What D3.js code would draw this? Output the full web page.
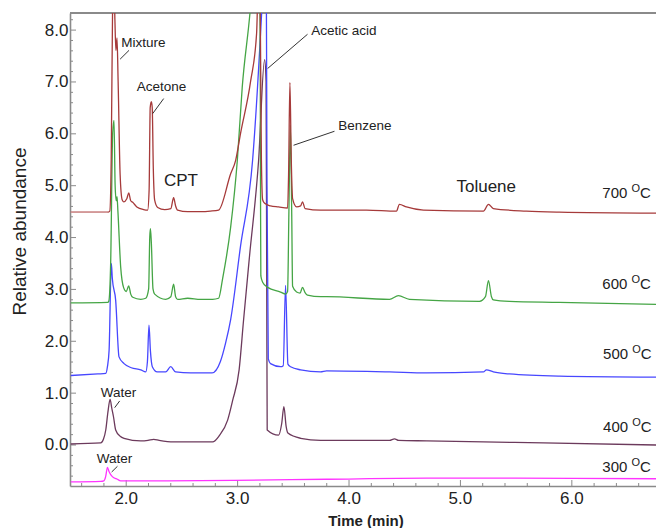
<!DOCTYPE html>
<html>
<head>
<meta charset="utf-8">
<script src="https://cdn.jsdelivr.net/npm/d3@7"></script>
<style>
  body { margin: 0; background: #fff; }
  text { font-family: "Liberation Sans", Arial, Helvetica, sans-serif; fill: #222; }
</style>
</head>
<body>
<div id="chart"></div>
<script>
//------------------ DATA (time in min, relative abundance) ------------------
// each run is a list of [time, abundance]
var run700 = [[1.507,4.48],[1.839,4.48],[1.857,4.50],[1.870,5.50],[1.883,8.60],[1.892,9.20],[1.903,8.20],
  [1.912,7.60],[1.922,7.84],[1.932,7.00],[1.950,5.20],[1.968,4.72],[1.982,4.68],[2.010,4.74],[2.027,4.85],
  [2.045,4.70],[2.063,4.67],[2.100,4.58],[2.161,4.53],[2.197,4.52],[2.210,4.90],[2.220,6.50],[2.230,6.61],
  [2.238,6.50],[2.248,5.30],[2.260,4.71],[2.287,4.57],[2.350,4.53],[2.405,4.55],[2.430,4.76],[2.448,4.60],
  [2.466,4.52],[2.556,4.49],[2.673,4.49],[2.760,4.50],[2.834,4.52],[2.942,5.22],[2.987,5.48],[3.031,6.00],
  [3.121,7.00],[3.175,7.93],[3.195,9.30],[3.209,8.00],[3.218,5.50],[3.229,4.72],[3.247,4.65],[3.300,4.60],
  [3.372,4.58],[3.453,4.56],[3.462,5.20],[3.474,6.98],[3.486,5.50],[3.498,4.74],[3.534,4.58],[3.570,4.60],
  [3.587,4.68],[3.610,4.55],[3.749,4.52],[4.161,4.52],[4.430,4.50],[4.457,4.63],[4.520,4.58],[4.673,4.52],
  [5.211,4.50],[5.256,4.63],[5.300,4.55],[5.596,4.50],[5.892,4.48],[6.762,4.46]];

var run600 = [[1.507,2.73],[1.839,2.74],[1.848,2.76],[1.865,3.50],[1.883,6.00],[1.895,6.25],[1.905,5.00],
  [1.915,4.70],[1.922,4.78],[1.930,4.50],[1.955,3.42],[1.982,3.02],[2.005,2.95],[2.027,3.06],[2.045,2.90],
  [2.063,2.84],[2.135,2.80],[2.180,2.82],[2.206,3.00],[2.216,4.00],[2.222,4.16],[2.230,3.90],[2.245,3.00],
  [2.260,2.90],[2.359,2.80],[2.405,2.85],[2.430,3.09],[2.448,2.85],[2.466,2.80],[2.556,2.82],[2.673,2.80],
  [2.780,2.80],[2.834,2.82],[2.870,3.20],[2.942,4.19],[3.002,5.48],[3.046,6.89],[3.115,8.31],[3.160,9.50],
  [3.205,9.00],[3.210,5.00],[3.213,3.25],[3.229,3.13],[3.274,3.03],[3.390,2.94],[3.435,2.90],[3.453,2.95],
  [3.465,4.50],[3.478,6.16],[3.490,4.50],[3.498,3.05],[3.534,2.94],[3.565,2.92],[3.587,3.03],[3.610,2.93],
  [3.632,2.88],[3.749,2.85],[3.803,2.85],[4.368,2.80],[4.448,2.87],[4.547,2.80],[5.175,2.76],[5.229,2.85],
  [5.256,3.16],[5.283,2.85],[5.300,2.79],[5.444,2.76],[5.892,2.74],[6.762,2.70]];

var run500 = [[1.507,1.33],[1.750,1.36],[1.821,1.37],[1.836,1.50],[1.851,1.82],[1.871,3.49],[1.880,3.20],
  [1.910,2.78],[1.940,1.69],[1.985,1.56],[2.050,1.48],[2.135,1.44],[2.180,1.40],[2.195,1.60],[2.209,2.30],
  [2.222,1.80],[2.239,1.50],[2.283,1.40],[2.359,1.40],[2.404,1.50],[2.448,1.40],[2.583,1.38],[2.775,1.38],
  [2.850,1.60],[2.897,1.96],[2.942,2.41],[3.031,3.83],[3.139,5.48],[3.220,8.31],[3.250,9.60],[3.262,9.00],
  [3.268,5.00],[3.280,1.65],[3.300,1.56],[3.390,1.50],[3.414,1.52],[3.435,3.07],[3.456,1.55],[3.480,1.50],
  [3.570,1.44],[3.749,1.40],[3.803,1.42],[4.368,1.40],[4.700,1.38],[5.211,1.40],[5.238,1.44],[5.300,1.40],
  [5.444,1.36],[5.892,1.32],[6.762,1.30]];

var run400 = [[1.507,0.01],[1.776,0.03],[1.800,0.10],[1.821,0.28],[1.840,0.62],[1.860,0.87],[1.875,0.70],
  [1.890,0.54],[1.910,0.28],[1.950,0.16],[1.985,0.12],[2.135,0.07],[2.200,0.08],[2.251,0.10],[2.300,0.08],
  [2.430,0.05],[2.780,0.05],[2.840,0.17],[2.915,0.47],[2.960,0.85],[3.018,1.44],[3.058,2.40],[3.110,3.60],
  [3.193,5.48],[3.247,7.42],[3.260,7.00],[3.266,3.00],[3.270,0.28],[3.372,0.18],[3.400,0.40],[3.420,0.73],
  [3.440,0.35],[3.456,0.22],[3.570,0.12],[3.749,0.08],[4.368,0.08],[4.413,0.11],[4.450,0.08],[4.700,0.07],
  [5.211,0.05],[5.749,0.03],[6.762,-0.01]];

var run300 = [[1.507,-0.72],[1.776,-0.71],[1.804,-0.70],[1.820,-0.62],[1.836,-0.44],[1.850,-0.52],
  [1.880,-0.62],[1.925,-0.67],[1.955,-0.70],[2.377,-0.70],[2.969,-0.69],[3.803,-0.67],[4.700,-0.65],
  [5.500,-0.65],[6.762,-0.66]];

var runLabels = ["700", "600", "500", "400", "300"];
var xTicks = [2, 3, 4, 5, 6];
var yTicks = [0, 1, 2, 3, 4, 5, 6, 7, 8];

//------------------ SETUP ------------------
var width = 656;
var height = 528;

var svg = d3.select("#chart")
  .append("svg")
  .attr("width", width)
  .attr("height", height);

var x = d3.scaleLinear().domain([1.5, 6.76]).range([70, 656]);
var y = d3.scaleLinear().domain([-0.8, 8.32]).range([486, 13]);

// plot area clip so tall peaks get cut at the frame
svg.append("clipPath").attr("id", "plotClip")
  .append("rect")
  .attr("x", x(1.5)).attr("y", y(8.32))
  .attr("width", x(6.76) - x(1.5)).attr("height", y(-0.8) - y(8.32));

//------------------ AXES ------------------
var axisColor = "#8a8a8a";

// minor ticks first (every 0.2)
var xMinor = d3.range(1.6, 6.75, 0.2).filter(function(d) { return Math.abs(d - Math.round(d)) > 0.01; });
var yMinor = d3.range(-0.6, 8.31, 0.2).filter(function(d) { return Math.abs(d - Math.round(d)) > 0.01; });

svg.append("g")
  .attr("transform", "translate(0," + y(-0.8) + ")")
  .call(d3.axisBottom(x).tickValues(xMinor).tickSize(-3).tickFormat(""))
  .call(function(g) { g.select(".domain").remove(); })
  .selectAll("line").attr("stroke", axisColor);

svg.append("g")
  .attr("transform", "translate(" + x(1.5) + ",0)")
  .call(d3.axisLeft(y).tickValues(yMinor).tickSize(-3).tickFormat(""))
  .call(function(g) { g.select(".domain").remove(); })
  .selectAll("line").attr("stroke", axisColor);

var xAxis = svg.append("g")
  .attr("transform", "translate(0," + y(-0.8) + ")")
  .call(d3.axisBottom(x).tickValues(xTicks).tickSizeInner(-6).tickSizeOuter(0)
    .tickPadding(6).tickFormat(d3.format(".1f")));

var yAxis = svg.append("g")
  .attr("transform", "translate(" + x(1.5) + ",0)")
  .call(d3.axisLeft(y).tickValues(yTicks).tickSizeInner(-6).tickSizeOuter(0)
    .tickPadding(1.5).tickFormat(d3.format(".1f")));

[xAxis, yAxis].forEach(function(g) {
  g.select(".domain").attr("stroke", axisColor).attr("stroke-width", 1.6);
  g.selectAll(".tick line").attr("stroke", axisColor);
  g.selectAll(".tick text")
    .style("font-family", "'Liberation Sans', Arial, sans-serif")
    .style("font-size", "17px").attr("fill", "#222");
});

// top frame line
svg.append("line")
  .attr("x1", x(1.5)).attr("x2", x(6.76))
  .attr("y1", y(8.32)).attr("y2", y(8.32))
  .attr("stroke", axisColor).attr("stroke-width", 2);

// axis titles
svg.append("text")
  .attr("transform", "translate(26," + ((y(8.32) + y(-0.8)) / 2 - 18) + ")rotate(-90)")
  .attr("text-anchor", "middle")
  .style("font-size", "19px")
  .text("Relative abundance");

svg.append("text")
  .attr("x", 366).attr("y", 526)
  .attr("text-anchor", "middle")
  .style("font-size", "15px").style("font-weight", "bold")
  .text("Time (min)");

//------------------ TRACES ------------------
var runs = [run700, run600, run500, run400, run300];
var runColors = ["#a63a3a", "#45a545", "#4747ff", "#6c3a5c", "#ff33ff"];

var line = d3.line()
  .curve(d3.curveMonotoneX)
  .x(function(d) { return x(d[0]); })
  .y(function(d) { return y(d[1]); });

var traceGroup = svg.append("g").attr("clip-path", "url(#plotClip)");

// draw bottom run first so the top ones overlay like the original
runs.slice().reverse().forEach(function(run, i) {
  var k = runs.length - 1 - i;
  traceGroup.append("path")
    .datum(run)
    .attr("fill", "none")
    .attr("stroke", runColors[k])
    .attr("stroke-width", 1.3)
    .attr("stroke-linejoin", "round")
    .attr("d", line);
});

// the 700 trace is printed faded before the first peak
traceGroup.append("path")
  .datum(run700.filter(function(d) { return d[0] <= 1.845; }))
  .attr("fill", "none")
  .attr("stroke", "#dba8a8")
  .attr("stroke-width", 1.4)
  .attr("d", line);

//------------------ TEMPERATURE LABELS ------------------
// baseline position of each label in data units
var tempLabelAt = [[6.278, 4.76], [6.278, 3.00], [6.285, 1.65], [6.285, 0.235], [6.278, -0.536]];

runLabels.forEach(function(lbl, i) {
  var t = svg.append("text")
    .attr("x", x(tempLabelAt[i][0]))
    .attr("y", y(tempLabelAt[i][1]))
    .style("font-size", "15px");
  t.append("tspan").text(lbl + " ");
  t.append("tspan").attr("dy", -6).style("font-size", "11px").text("O");
  t.append("tspan").attr("dy", 6).text("C");
});

//------------------ PEAK ANNOTATIONS ------------------
// text anchor and optional leader line, all in data units
var notes = [
  { text: "Mixture",     at: [1.961, 7.66], size: 13.5, lead: [[2.030, 7.60], [1.950, 7.43]] },
  { text: "Acetone",     at: [2.099, 6.82], size: 13.5, lead: [[2.341, 6.67], [2.242, 6.38]] },
  { text: "CPT",         at: [2.343, 4.99], size: 17 },
  { text: "Acetic acid", at: [3.665, 7.89], size: 13.5, lead: [[3.632, 7.91], [3.274, 7.25]] },
  { text: "Benzene",     at: [3.908, 6.06], size: 13.5, lead: [[3.874, 6.04], [3.507, 5.77]] },
  { text: "Toluene",     at: [4.969, 4.87], size: 17 },
  { text: "Water",       at: [1.776, 0.92], size: 13.5, lead: [[1.946, 0.84], [1.901, 0.71]] },
  { text: "Water",       at: [1.740, -0.35], size: 13.5, lead: [[1.926, -0.42], [1.874, -0.53]] }
];

notes.forEach(function(n) {
  svg.append("text")
    .attr("x", x(n.at[0]))
    .attr("y", y(n.at[1]))
    .style("font-size", n.size + "px")
    .text(n.text);
  if (n.lead) {
    svg.append("line")
      .attr("x1", x(n.lead[0][0])).attr("y1", y(n.lead[0][1]))
      .attr("x2", x(n.lead[1][0])).attr("y2", y(n.lead[1][1]))
      .attr("stroke", "#333").attr("stroke-width", 1);
  }
});
</script>
</body>
</html>
